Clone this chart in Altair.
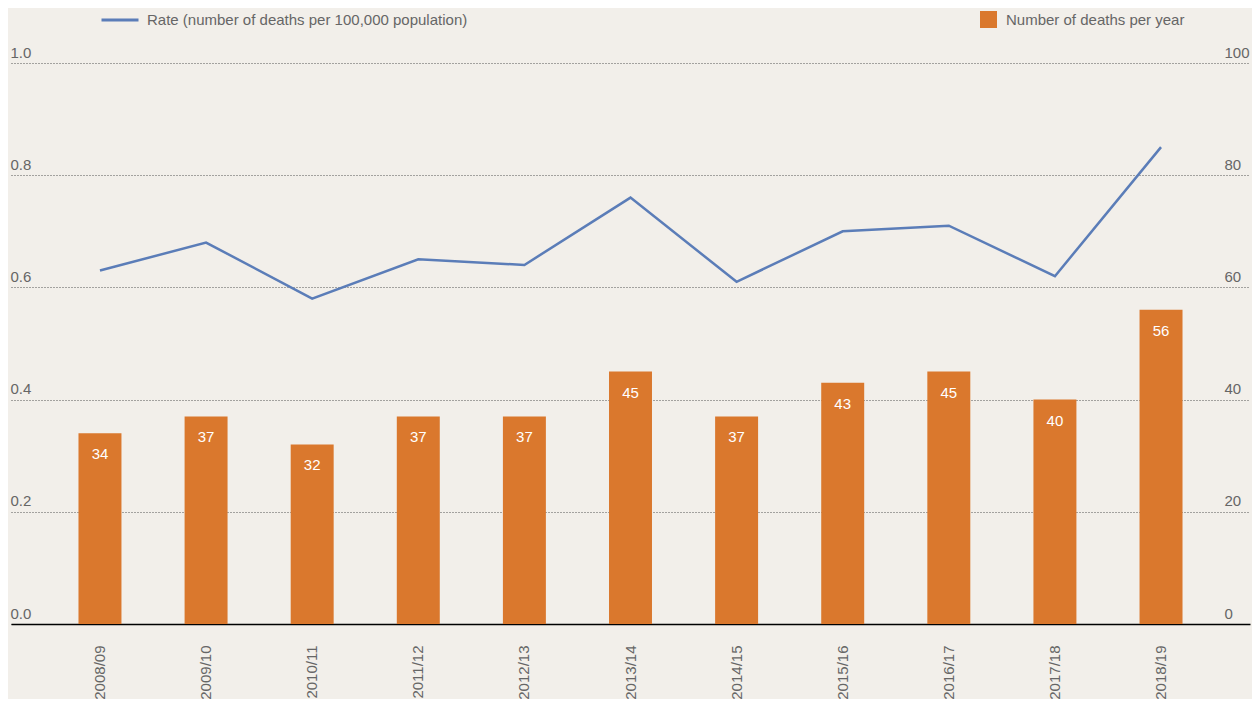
import altair as alt
import pandas as pd

years = ["2008/09", "2009/10", "2010/11", "2011/12", "2012/13", "2013/14",
         "2014/15", "2015/16", "2016/17", "2017/18", "2018/19"]
deaths = [34, 37, 32, 37, 37, 45, 37, 43, 45, 40, 56]
rate = [0.63, 0.68, 0.58, 0.65, 0.64, 0.76, 0.61, 0.70, 0.71, 0.62, 0.85]

RATE_LABEL = "Rate (number of deaths per 100,000 population)"
DEATHS_LABEL = "Number of deaths per year"

df = pd.DataFrame({
    "year": years,
    "deaths": deaths,
    "rate": rate,
    "rs": [RATE_LABEL] * len(years),
    "ds": [DEATHS_LABEL] * len(years),
})

FONT = "Liberation Sans"
GREY = "#666666"
ORANGE = "#DA782D"
BLUE = "#5B7DB8"
FS = 15

x_enc = alt.X(
    "year:N", sort=years, title=None,
    scale=alt.Scale(paddingInner=0.595, paddingOuter=0.636),
    axis=alt.Axis(labelAngle=-90, ticks=False, domain=True, domainColor="#000000",
                  domainWidth=1.5, labelPadding=21, labelFontSize=FS,
                  labelColor=GREY, labelFont=FONT, grid=False),
)

base = alt.Chart(df)

bars = base.mark_bar(color=ORANGE).encode(
    x=x_enc,
    y=alt.Y("deaths:Q", title=None,
            scale=alt.Scale(domain=[0, 100], nice=False),
            axis=alt.Axis(orient="right", values=[0, 20, 40, 60, 80, 100],
                          grid=False, domain=False, ticks=False, tickSize=0,
                          labelPadding=-26, labelAlign="left",
                          labelBaseline="alphabetic", labelOffset=-6,
                          labelFontSize=FS, labelColor=GREY, labelFont=FONT,
                          labelFlush=False)),
    fill=alt.Fill("ds:N", title=None,
                  scale=alt.Scale(domain=[DEATHS_LABEL], range=[ORANGE]),
                  legend=alt.Legend(orient="none", legendX=969, legendY=-52,
                                    symbolType="square", symbolSize=289,
                                    symbolStrokeWidth=0, padding=0,
                                    labelFontSize=FS, labelColor=GREY,
                                    labelFont=FONT, labelOffset=9,
                                    labelLimit=600)),
)

labels = base.mark_text(color="white", fontSize=FS, font=FONT, dy=21).encode(
    x=alt.X("year:N", sort=years),
    y=alt.Y("deaths:Q"),
    text=alt.Text("deaths:Q"),
)

line = base.mark_line(strokeWidth=2.5).encode(
    x=alt.X("year:N", sort=years),
    y=alt.Y("rate:Q", title=None,
            scale=alt.Scale(domain=[0, 1], nice=False),
            axis=alt.Axis(orient="left", values=[0, 0.2, 0.4, 0.6, 0.8, 1.0],
                          format=".1f", grid=True, gridDash=[1, 2],
                          gridColor="#555555", gridWidth=1, domain=False,
                          ticks=False, tickSize=0, labelPadding=1,
                          labelAlign="left",
                          labelBaseline="alphabetic", labelOffset=-6,
                          labelFontSize=FS, labelColor=GREY, labelFont=FONT,
                          labelFlush=False)),
    stroke=alt.Stroke("rs:N", title=None,
                      scale=alt.Scale(domain=[RATE_LABEL], range=[BLUE]),
                      legend=alt.Legend(orient="none", legendX=89, legendY=-63,
                                        symbolType="stroke", symbolSize=1369,
                                        symbolStrokeWidth=3, padding=0,
                                        labelFontSize=FS, labelColor=GREY,
                                        labelFont=FONT, labelOffset=7,
                                        labelLimit=600)),
)

chart = alt.layer(
    alt.layer(bars, labels),
    line,
).resolve_scale(y="independent").properties(
    width=1239,
    height=561,
    autosize=alt.AutoSizeParams(type="none"),
    padding={"left": 3, "top": 55, "right": 2, "bottom": 75},
    background="#F2EFEA",
).configure_view(stroke=None)

chart.save("out.html", embed_options={"renderer": "svg", "actions": False})
